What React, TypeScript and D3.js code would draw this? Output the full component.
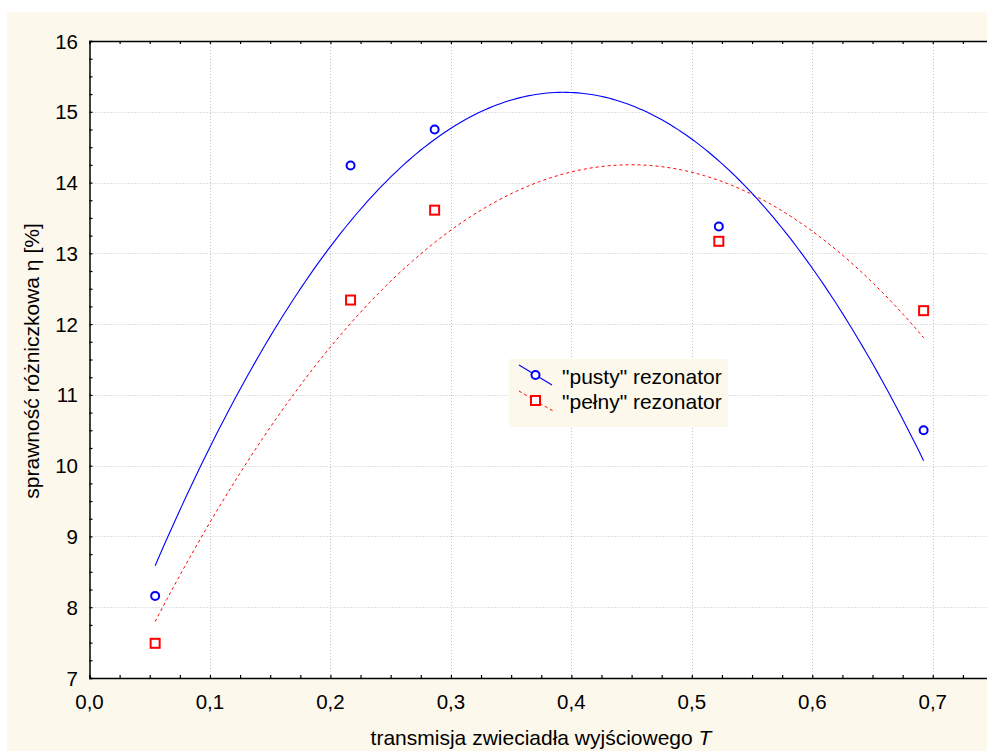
import React, { useRef, useEffect } from 'react';
import * as d3 from 'd3';

// transmission of the output mirror T
const transT = [0.0545, 0.2167, 0.2865, 0.5224, 0.6924];
// differential efficiency [%], "empty" resonator
const pustyEta = [8.16, 14.24, 14.75, 13.38, 10.5];
// differential efficiency [%], "full" resonator
const pelnyEta = [7.49, 12.34, 13.61, 13.17, 12.19];

const xTickLabels = ['0,0', '0,1', '0,2', '0,3', '0,4', '0,5', '0,6', '0,7'];
const yTickLabels = ['7', '8', '9', '10', '11', '12', '13', '14', '15', '16'];

const BEIGE = '#fdf8ec';
const FONT = 'Arial, "Liberation Sans", sans-serif';

// least squares quadratic, y = a + b x + c x^2
function quadFit(xs: number[], ys: number[]) {
    const s = (p: number, q: number) => d3.sum(xs, (x, i) => Math.pow(x, p) * Math.pow(ys[i], q));
    const m = [
        [xs.length, s(1, 0), s(2, 0), s(0, 1)],
        [s(1, 0), s(2, 0), s(3, 0), s(1, 1)],
        [s(2, 0), s(3, 0), s(4, 0), s(2, 1)]
    ];
    for (let i = 0; i < 3; i++) {
        for (let k = i + 1; k < 3; k++) {
            const f = m[k][i] / m[i][i];
            for (let j = i; j < 4; j++) m[k][j] -= f * m[i][j];
        }
    }
    const r = [0, 0, 0];
    for (let i = 2; i >= 0; i--) {
        let v = m[i][3];
        for (let j = i + 1; j < 3; j++) v -= m[i][j] * r[j];
        r[i] = v / m[i][i];
    }
    return (x: number) => r[0] + r[1] * x + r[2] * x * x;
}

const App = () => {
    const chart = useRef<SVGSVGElement>(null);

    useEffect(() => {
        const width = 987;
        const height = 751;
        const left = 89.5, top = 41, right = 993, bottom = 678;

        const svg = d3.select(chart.current);
        svg.selectAll('*').remove();
        svg.attr('width', width).attr('height', height);

        svg.append('rect').attr('x', 0).attr('y', 0).attr('width', width).attr('height', height).attr('fill', '#fff');
        svg.append('rect').attr('x', 7).attr('y', 12).attr('width', width - 7).attr('height', height - 12).attr('fill', BEIGE);
        svg.append('rect').attr('x', left).attr('y', top).attr('width', right - left).attr('height', bottom - top).attr('fill', '#fff');

        const xScale = d3.scaleLinear().domain([0, 0.75]).range([left, right]);
        const yScale = d3.scaleLinear().domain([7, 16]).range([bottom, top]);

        const xMajor = d3.range(0, 8).map(i => i / 10);
        const yMajor = d3.range(7, 17);
        const xMinor = d3.range(0, 31).map(i => i * 0.025);
        const yMinor = d3.range(0, 37).map(i => 7 + i * 0.25);

        // grid
        const grid = svg.append('g').attr('stroke', '#c4c4c4').attr('stroke-width', 1).attr('stroke-dasharray', '1,2');
        grid.selectAll('.gx').data(xMajor.slice(1)).enter().append('line')
            .attr('x1', d => Math.round(xScale(d)) + 0.5).attr('x2', d => Math.round(xScale(d)) + 0.5)
            .attr('y1', top).attr('y2', bottom);
        grid.selectAll('.gy').data(yMajor.slice(1, -1)).enter().append('line')
            .attr('y1', d => Math.round(yScale(d)) + 0.5).attr('y2', d => Math.round(yScale(d)) + 0.5)
            .attr('x1', left).attr('x2', right);

        // axes with inward ticks
        const bottomAxis = d3.axisBottom(xScale).tickValues(xMinor).tickSize(-3).tickFormat(() => '');
        const topAxis = d3.axisTop(xScale).tickValues(xMinor).tickSize(-3).tickFormat(() => '');
        const leftAxis = d3.axisLeft(yScale).tickValues(yMinor).tickSize(-3).tickFormat(() => '');

        const styleAxis = (g: any) => {
            g.select('.domain').attr('stroke', '#000').attr('stroke-width', 1.5);
            g.selectAll('.tick line').attr('stroke', '#000').attr('stroke-width', 1.2);
        };
        svg.append('g').attr('transform', `translate(0,${bottom})`).call(bottomAxis).call(styleAxis);
        svg.append('g').attr('transform', `translate(0,${top})`).call(topAxis).call(styleAxis);
        svg.append('g').attr('transform', `translate(${left},0)`).call(leftAxis).call(styleAxis);

        // tick labels
        svg.append('g').selectAll('text').data(xMajor).enter().append('text')
            .attr('x', d => xScale(d)).attr('y', 709)
            .attr('text-anchor', 'middle')
            .style('font-family', FONT).style('font-size', '20.5px').attr('fill', '#000')
            .text((d, i) => xTickLabels[i]);
        svg.append('g').selectAll('text').data(yMajor).enter().append('text')
            .attr('x', 78).attr('y', d => yScale(d) + 7.5)
            .attr('text-anchor', 'end')
            .style('font-family', FONT).style('font-size', '20.5px').attr('fill', '#000')
            .text((d, i) => yTickLabels[i]);

        // axis titles
        const xt = svg.append('text').attr('x', 541).attr('y', 745).attr('text-anchor', 'middle')
            .style('font-family', FONT).style('font-size', '21px').attr('fill', '#000');
        xt.append('tspan').text('transmisja zwieciadła wyjściowego ');
        xt.append('tspan').style('font-style', 'italic').text('T');

        svg.append('text')
            .attr('transform', 'translate(39,361) rotate(-90)')
            .attr('text-anchor', 'middle')
            .style('font-family', FONT).style('font-size', '21px').attr('fill', '#000')
            .text('sprawność różniczkowa η [%]');

        // fitted curves
        const plot = svg.append('g');
        const x0 = d3.min(transT) as number;
        const x1 = d3.max(transT) as number;
        const samples = d3.range(0, 201).map(i => x0 + (x1 - x0) * i / 200);
        const line = d3.line<number[]>().x(d => xScale(d[0])).y(d => yScale(d[1]));

        const fitPusty = quadFit(transT, pustyEta);
        const fitPelny = quadFit(transT, pelnyEta);

        plot.append('path').datum(samples.map(x => [x, fitPelny(x)]))
            .attr('d', line).attr('fill', 'none').attr('stroke', '#ff0000')
            .attr('stroke-width', 1).attr('stroke-dasharray', '3,3');
        plot.append('path').datum(samples.map(x => [x, fitPusty(x)]))
            .attr('d', line).attr('fill', 'none').attr('stroke', '#0000ff')
            .attr('stroke-width', 1.1);

        // markers
        plot.selectAll('.pusty').data(transT).enter().append('circle')
            .attr('cx', d => xScale(d)).attr('cy', (d, i) => yScale(pustyEta[i]))
            .attr('r', 4).attr('fill', '#fff').attr('stroke', '#0000ff').attr('stroke-width', 2);
        plot.selectAll('.pelny').data(transT).enter().append('rect')
            .attr('x', d => xScale(d) - 4.5).attr('y', (d, i) => yScale(pelnyEta[i]) - 4.5)
            .attr('width', 9).attr('height', 9)
            .attr('fill', '#fff').attr('stroke', '#ff0000').attr('stroke-width', 2);

        // legend
        const lg = svg.append('g');
        lg.append('rect').attr('x', 509).attr('y', 359).attr('width', 219).attr('height', 68).attr('fill', BEIGE);
        lg.append('line').attr('x1', 519).attr('y1', 365).attr('x2', 552).attr('y2', 385)
            .attr('stroke', '#0000ff').attr('stroke-width', 1.1);
        lg.append('circle').attr('cx', 535.5).attr('cy', 375).attr('r', 4)
            .attr('fill', '#fff').attr('stroke', '#0000ff').attr('stroke-width', 2);
        lg.append('line').attr('x1', 519).attr('y1', 391).attr('x2', 553).attr('y2', 411)
            .attr('stroke', '#ff0000').attr('stroke-width', 1).attr('stroke-dasharray', '3,3');
        lg.append('rect').attr('x', 531).attr('y', 396).attr('width', 9).attr('height', 9)
            .attr('fill', '#fff').attr('stroke', '#ff0000').attr('stroke-width', 2);
        lg.append('text').attr('x', 562).attr('y', 384)
            .style('font-family', FONT).style('font-size', '21px').attr('fill', '#000')
            .text('"pusty" rezonator');
        lg.append('text').attr('x', 562).attr('y', 409)
            .style('font-family', FONT).style('font-size', '21px').attr('fill', '#000')
            .text('"pełny" rezonator');
    }, []);

    return (
        <svg ref={chart} style={{ position: 'absolute', left: 0, top: 0, display: 'block' }}></svg>
    );
};

export default App;
